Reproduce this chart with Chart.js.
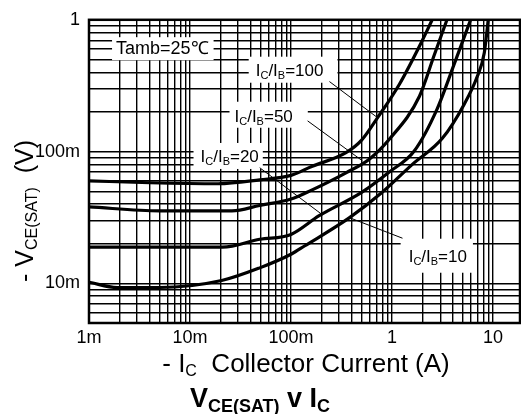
<!DOCTYPE html>
<html>
<head>
<meta charset="utf-8">
<script src="https://cdn.jsdelivr.net/npm/chart.js@4.4.1/dist/chart.umd.min.js"></script>
<style>
  html, body { margin: 0; padding: 0; background: #fff; }
  canvas { display: block; }
</style>
</head>
<body>
<canvas id="chart" width="521" height="414"></canvas>
<script>
// Collector current -Ic (A) and saturation voltage -Vce(sat) (V) for each Ic/Ib ratio
const icRatio100 = [0.001, 0.004, 0.019, 0.049, 0.10, 0.16, 0.35, 0.50, 0.72, 1.18, 2.0, 2.5];
const vceRatio100 = [0.060, 0.058, 0.057, 0.061, 0.066, 0.077, 0.098, 0.122, 0.181, 0.323, 0.70, 1.0];

const icRatio50 = [0.001, 0.005, 0.026, 0.049, 0.10, 0.16, 0.35, 0.60, 0.94, 1.87, 2.62, 3.5];
const vceRatio50 = [0.038, 0.0355, 0.0355, 0.039, 0.0436, 0.051, 0.069, 0.088, 0.124, 0.263, 0.54, 1.0];

const icRatio20 = [0.001, 0.021, 0.049, 0.10, 0.19, 0.50, 0.94, 1.66, 2.8, 4.1, 6.0];
const vceRatio20 = [0.0188, 0.0188, 0.0216, 0.0235, 0.0326, 0.049, 0.070, 0.101, 0.211, 0.455, 1.0];

const icRatio10 = [0.001, 0.0019, 0.005, 0.0206, 0.049, 0.101, 0.136, 0.38, 0.80, 1.59, 3.15, 5.19, 6.98, 8.19, 8.97];
const vceRatio10 = [0.0102, 0.0093, 0.0093, 0.0105, 0.0131, 0.0167, 0.0192, 0.0315, 0.0491, 0.080, 0.126, 0.229, 0.371, 0.559, 1.0];

// Axis ranges and labelled decades
const xMin = 0.001, xMax = 18.5;
const yMin = 0.005, yMax = 1;
const xTickValues = [0.001, 0.01, 0.1, 1, 10];
const xTickLabels = ['1m', '10m', '100m', '1', '10'];
const yTickValues = [0.01, 0.1, 1];
const yTickLabels = ['10m', '100m', '1'];

const FONT = "'Liberation Sans', Arial, Helvetica, sans-serif";

// Callout labels, their anchor (label centre, in axis units) and leader line ends
const callouts = [
  { parts: [['Tamb=25\u2103', 0]], at: [0.00532, 0.609], pad: [4, 5, 11, 12], size: 18 },
  { parts: [['I', 0], ['C', 1], ['/I', 0], ['B', 1], ['=100', 0]], at: [0.0968, 0.418], pad: [7, 14, 13, 13], size: 17,
    leader: [[0.240, 0.340], [0.718, 0.181]] },
  { parts: [['I', 0], ['C', 1], ['/I', 0], ['B', 1], ['=50', 0]], at: [0.0536, 0.187], pad: [5, 15, 14, 12], size: 17,
    leader: [[0.146, 0.171], [0.51, 0.085]] },
  { parts: [['I', 0], ['C', 1], ['/I', 0], ['B', 1], ['=20', 0]], at: [0.0247, 0.0926], pad: [7, 4, 13, 13], size: 17,
    leader: [[0.049, 0.0754], [0.205, 0.0331]] },
  { parts: [['I', 0], ['C', 1], ['/I', 0], ['B', 1], ['=10', 0]], at: [2.84, 0.0162], pad: [8, 6, 17, 17], size: 17,
    leader: [[1.27, 0.022], [0.379, 0.0315]] }
];

// Grid at every 1..9 multiple of each decade inside the range
function gridValues(min, max) {
  const out = [];
  for (let e = Math.floor(Math.log10(min)); Math.pow(10, e) <= max; e++) {
    for (let k = 1; k <= 9; k++) {
      const v = +(k * Math.pow(10, e)).toPrecision(6);
      if (v >= min * 0.9999 && v <= max * 1.0001) out.push(v);
    }
  }
  return out;
}

function labelFor(v, values, labels) {
  const i = values.findIndex(d => Math.abs(Math.log10(d) - Math.log10(v)) < 1e-6);
  return i >= 0 ? labels[i] : '';
}

// Text with subscripts: parts = [[text, isSub], ...]
function richWidth(ctx, parts, o) {
  let w = 0;
  parts.forEach(([t, sub]) => {
    ctx.font = `${o.weight || 'normal'} ${sub ? o.subSize : o.size}px ${FONT}`;
    w += ctx.measureText(t).width;
  });
  return w;
}
function drawRich(ctx, parts, cx, baseline, o) {
  const w = richWidth(ctx, parts, o);
  let x = cx - w / 2;
  ctx.textAlign = 'left';
  ctx.textBaseline = 'alphabetic';
  ctx.fillStyle = '#000';
  parts.forEach(([t, sub]) => {
    ctx.font = `${o.weight || 'normal'} ${sub ? o.subSize : o.size}px ${FONT}`;
    ctx.fillText(t, x, baseline + (sub ? o.subDrop : 0));
    x += ctx.measureText(t).width;
  });
  return w;
}

const decorations = {
  id: 'decorations',
  beforeDatasetsDraw(chart) {
    const { ctx, scales: { x, y } } = chart;
    ctx.save();
    callouts.forEach(c => {
      const o = { size: c.size, subSize: Math.round(c.size * 0.66), subDrop: 3 };
      const cx = x.getPixelForValue(c.at[0]);
      const cy = y.getPixelForValue(c.at[1]);
      const w = richWidth(ctx, c.parts, o);
      const [pl, pr, pt, pb] = c.pad;
      ctx.fillStyle = '#fff';
      ctx.fillRect(cx - w / 2 - pl, cy - pt, w + pl + pr, pt + pb);
      drawRich(ctx, c.parts, cx, cy + Math.round(c.size * 0.36), o);
      if (c.leader) {
        ctx.beginPath();
        ctx.strokeStyle = '#000';
        ctx.lineWidth = 1;
        ctx.moveTo(x.getPixelForValue(c.leader[0][0]), y.getPixelForValue(c.leader[0][1]));
        ctx.lineTo(x.getPixelForValue(c.leader[1][0]), y.getPixelForValue(c.leader[1][1]));
        ctx.stroke();
      }
    });
    ctx.restore();
  },
  afterDraw(chart) {
    const { ctx, chartArea: a } = chart;
    ctx.save();
    // plot frame
    ctx.strokeStyle = '#000';
    ctx.lineWidth = 2.5;
    ctx.strokeRect(a.left, a.top, a.right - a.left, a.bottom - a.top);
    // x axis title
    drawRich(ctx, [['- I', 0], ['C', 1], ['  Collector Current (A)', 0]], 306, 372,
      { size: 26, subSize: 16, subDrop: 4 });
    // y axis title, reading upwards
    ctx.translate(33, 211);
    ctx.rotate(-Math.PI / 2);
    drawRich(ctx, [['- V', 0], ['CE(SAT)', 1], ['  (V)', 0]], 0, 0,
      { size: 25, subSize: 16, subDrop: 4 });
    ctx.setTransform(1, 0, 0, 1, 0, 0);
    // chart title
    drawRich(ctx, [['V', 0], ['CE(SAT)', 1], [' v I', 0], ['C', 1]], 260, 407,
      { size: 27, subSize: 18, subDrop: 5, weight: 'bold' });
    ctx.restore();
  }
};

const series = [
  { ic: icRatio100, v: vceRatio100 },
  { ic: icRatio50, v: vceRatio50 },
  { ic: icRatio20, v: vceRatio20 },
  { ic: icRatio10, v: vceRatio10 }
];

const gridStyle = { color: '#000', lineWidth: 1.4, drawTicks: false };
const tickFont = { family: FONT, size: 18 };

new Chart(document.getElementById('chart'), {
  type: 'line',
  data: {
    datasets: series.map(s => ({
      data: s.ic.map((ic, i) => ({ x: ic, y: s.v[i] })),
      borderColor: '#000',
      borderWidth: 3.2,
      pointRadius: 0,
      fill: false,
      cubicInterpolationMode: 'monotone'
    }))
  },
  options: {
    responsive: false,
    animation: false,
    devicePixelRatio: 1,
    layout: { padding: { top: 14, right: 1, left: 0, bottom: 0 } },
    plugins: { legend: { display: false }, tooltip: { enabled: false } },
    scales: {
      x: {
        type: 'logarithmic', min: xMin, max: xMax,
        afterBuildTicks: ax => { ax.ticks = gridValues(xMin, xMax).map(v => ({ value: v })); },
        afterFit: ax => { ax.height = 91; },
        grid: gridStyle,
        border: { display: false },
        ticks: {
          autoSkip: false, maxRotation: 0, minRotation: 0, padding: 4, color: '#000', font: tickFont,
          callback: v => labelFor(v, xTickValues, xTickLabels)
        }
      },
      y: {
        type: 'logarithmic', min: yMin, max: yMax,
        afterBuildTicks: ax => { ax.ticks = gridValues(yMin, yMax).map(v => ({ value: v })); },
        afterFit: ax => { ax.width = 89; },
        grid: gridStyle,
        border: { display: false },
        ticks: {
          autoSkip: false, padding: 9, color: '#000', font: tickFont,
          callback: v => labelFor(v, yTickValues, yTickLabels)
        }
      }
    }
  },
  plugins: [decorations]
});
</script>
</body>
</html>
